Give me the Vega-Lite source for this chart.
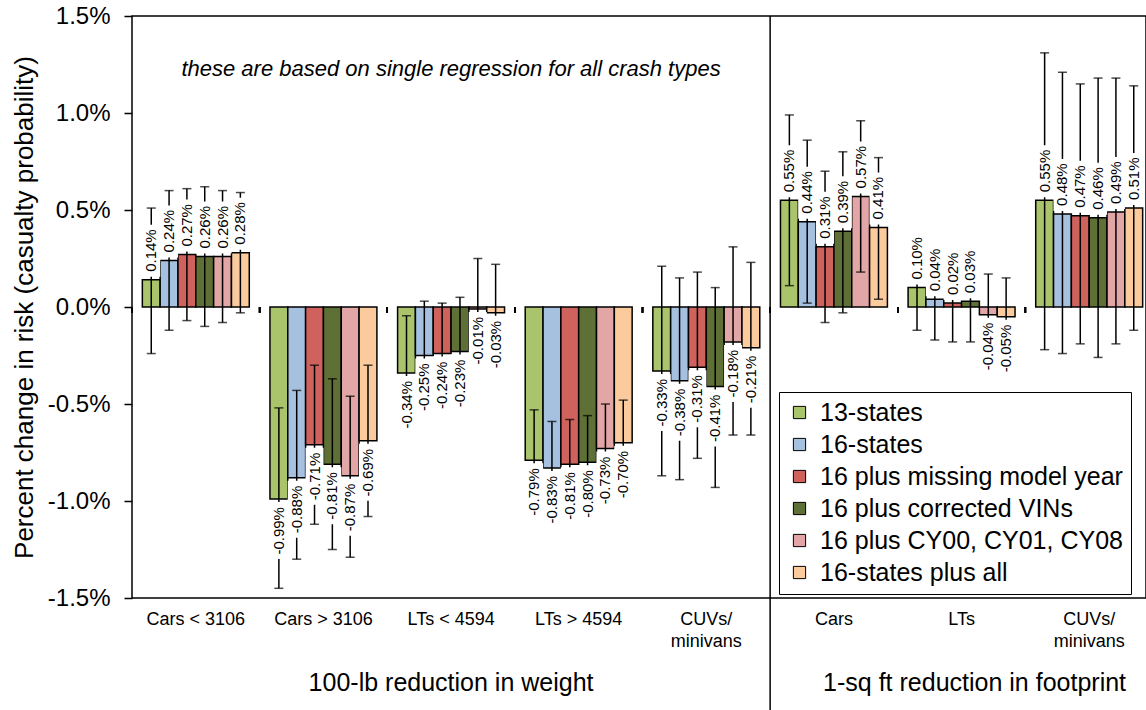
{
  "$schema": "https://vega.github.io/schema/vega-lite/v6.json",
  "width": 1014,
  "height": 582,
  "autosize": {"type": "none"},
  "padding": {"left": 132, "top": 16, "right": 0, "bottom": 112},
  "background": "white",
  "config": {
    "view": {"stroke": "black", "strokeWidth": 1.5},
    "font": "Liberation Sans",
    "text": {"font": "Liberation Sans", "color": "black"}
  },
  "data": {
    "values": [
      {"g": "A", "s": "13-states", "v": 0.14, "lo": -0.24, "hi": 0.51, "lab": "0.14%"},
      {"g": "A", "s": "16-states", "v": 0.24, "lo": -0.12, "hi": 0.60, "lab": "0.24%"},
      {"g": "A", "s": "16 plus missing model year", "v": 0.27, "lo": -0.07, "hi": 0.61, "lab": "0.27%"},
      {"g": "A", "s": "16 plus corrected VINs", "v": 0.26, "lo": -0.10, "hi": 0.62, "lab": "0.26%"},
      {"g": "A", "s": "16 plus CY00, CY01, CY08", "v": 0.26, "lo": -0.08, "hi": 0.60, "lab": "0.26%"},
      {"g": "A", "s": "16-states plus all", "v": 0.28, "lo": -0.03, "hi": 0.59, "lab": "0.28%"},
      {"g": "B", "s": "13-states", "v": -0.99, "lo": -1.45, "hi": -0.52, "lab": "-0.99%"},
      {"g": "B", "s": "16-states", "v": -0.88, "lo": -1.30, "hi": -0.43, "lab": "-0.88%"},
      {"g": "B", "s": "16 plus missing model year", "v": -0.71, "lo": -1.12, "hi": -0.30, "lab": "-0.71%"},
      {"g": "B", "s": "16 plus corrected VINs", "v": -0.81, "lo": -1.25, "hi": -0.37, "lab": "-0.81%"},
      {"g": "B", "s": "16 plus CY00, CY01, CY08", "v": -0.87, "lo": -1.29, "hi": -0.46, "lab": "-0.87%"},
      {"g": "B", "s": "16-states plus all", "v": -0.69, "lo": -1.08, "hi": -0.30, "lab": "-0.69%"},
      {"g": "C", "s": "13-states", "v": -0.34, "lo": -0.635, "hi": -0.045, "lab": "-0.34%"},
      {"g": "C", "s": "16-states", "v": -0.25, "lo": -0.53, "hi": 0.03, "lab": "-0.25%"},
      {"g": "C", "s": "16 plus missing model year", "v": -0.24, "lo": -0.50, "hi": 0.02, "lab": "-0.24%"},
      {"g": "C", "s": "16 plus corrected VINs", "v": -0.23, "lo": -0.51, "hi": 0.05, "lab": "-0.23%"},
      {"g": "C", "s": "16 plus CY00, CY01, CY08", "v": -0.01, "lo": -0.27, "hi": 0.25, "lab": "-0.01%"},
      {"g": "C", "s": "16-states plus all", "v": -0.03, "lo": -0.28, "hi": 0.22, "lab": "-0.03%"},
      {"g": "D", "s": "13-states", "v": -0.79, "lo": -1.05, "hi": -0.53, "lab": "-0.79%"},
      {"g": "D", "s": "16-states", "v": -0.83, "lo": -1.07, "hi": -0.59, "lab": "-0.83%"},
      {"g": "D", "s": "16 plus missing model year", "v": -0.81, "lo": -1.04, "hi": -0.58, "lab": "-0.81%"},
      {"g": "D", "s": "16 plus corrected VINs", "v": -0.80, "lo": -1.04, "hi": -0.56, "lab": "-0.80%"},
      {"g": "D", "s": "16 plus CY00, CY01, CY08", "v": -0.73, "lo": -0.96, "hi": -0.50, "lab": "-0.73%"},
      {"g": "D", "s": "16-states plus all", "v": -0.70, "lo": -0.92, "hi": -0.48, "lab": "-0.70%"},
      {"g": "E", "s": "13-states", "v": -0.33, "lo": -0.87, "hi": 0.21, "lab": "-0.33%"},
      {"g": "E", "s": "16-states", "v": -0.38, "lo": -0.89, "hi": 0.15, "lab": "-0.38%"},
      {"g": "E", "s": "16 plus missing model year", "v": -0.31, "lo": -0.78, "hi": 0.18, "lab": "-0.31%"},
      {"g": "E", "s": "16 plus corrected VINs", "v": -0.41, "lo": -0.93, "hi": 0.10, "lab": "-0.41%"},
      {"g": "E", "s": "16 plus CY00, CY01, CY08", "v": -0.18, "lo": -0.66, "hi": 0.31, "lab": "-0.18%"},
      {"g": "E", "s": "16-states plus all", "v": -0.21, "lo": -0.66, "hi": 0.23, "lab": "-0.21%"},
      {"g": "F", "s": "13-states", "v": 0.55, "lo": 0.11, "hi": 0.99, "lab": "0.55%"},
      {"g": "F", "s": "16-states", "v": 0.44, "lo": 0.02, "hi": 0.86, "lab": "0.44%"},
      {"g": "F", "s": "16 plus missing model year", "v": 0.31, "lo": -0.08, "hi": 0.70, "lab": "0.31%"},
      {"g": "F", "s": "16 plus corrected VINs", "v": 0.39, "lo": -0.03, "hi": 0.80, "lab": "0.39%"},
      {"g": "F", "s": "16 plus CY00, CY01, CY08", "v": 0.57, "lo": 0.18, "hi": 0.96, "lab": "0.57%"},
      {"g": "F", "s": "16-states plus all", "v": 0.41, "lo": 0.04, "hi": 0.77, "lab": "0.41%"},
      {"g": "G", "s": "13-states", "v": 0.10, "lo": -0.12, "hi": 0.32, "lab": "0.10%"},
      {"g": "G", "s": "16-states", "v": 0.04, "lo": -0.17, "hi": 0.25, "lab": "0.04%"},
      {"g": "G", "s": "16 plus missing model year", "v": 0.02, "lo": -0.18, "hi": 0.22, "lab": "0.02%"},
      {"g": "G", "s": "16 plus corrected VINs", "v": 0.03, "lo": -0.18, "hi": 0.24, "lab": "0.03%"},
      {"g": "G", "s": "16 plus CY00, CY01, CY08", "v": -0.04, "lo": -0.25, "hi": 0.17, "lab": "-0.04%"},
      {"g": "G", "s": "16-states plus all", "v": -0.05, "lo": -0.25, "hi": 0.15, "lab": "-0.05%"},
      {"g": "H", "s": "13-states", "v": 0.55, "lo": -0.22, "hi": 1.31, "lab": "0.55%"},
      {"g": "H", "s": "16-states", "v": 0.48, "lo": -0.24, "hi": 1.21, "lab": "0.48%"},
      {"g": "H", "s": "16 plus missing model year", "v": 0.47, "lo": -0.19, "hi": 1.15, "lab": "0.47%"},
      {"g": "H", "s": "16 plus corrected VINs", "v": 0.46, "lo": -0.26, "hi": 1.18, "lab": "0.46%"},
      {"g": "H", "s": "16 plus CY00, CY01, CY08", "v": 0.49, "lo": -0.19, "hi": 1.18, "lab": "0.49%"},
      {"g": "H", "s": "16-states plus all", "v": 0.51, "lo": -0.12, "hi": 1.14, "lab": "0.51%"}
    ]
  },
  "encoding": {
    "x": {
      "field": "g",
      "type": "nominal",
      "title": null,
      "scale": {"domain": ["A", "B", "C", "D", "E", "F", "G", "H"], "paddingInner": 0, "paddingOuter": 0, "range": [0, 1021]},
      "axis": {
        "labelAngle": 0,
        "ticks": false,
        "domain": false,
        "labelPadding": 12,
        "labelFontSize": 18,
        "labelColor": "black",
        "labelFont": "Liberation Sans",
        "labelLineHeight": 22,
        "labelBaseline": "top",
        "labelExpr": "datum.value=='A'?'Cars < 3106':datum.value=='B'?'Cars > 3106':datum.value=='C'?'LTs < 4594':datum.value=='D'?'LTs > 4594':datum.value=='F'?'Cars':datum.value=='G'?'LTs':['CUVs/','minivans']"
      }
    }
  },
  "layer": [
    {
      "mark": {"type": "bar", "stroke": "black", "strokeWidth": 1.5},
      "encoding": {
        "xOffset": {"field": "s", "type": "nominal", "scale": {"domain": ["13-states", "16-states", "16 plus missing model year", "16 plus corrected VINs", "16 plus CY00, CY01, CY08", "16-states plus all"], "paddingInner": 0, "paddingOuter": 0.58}},
        "y": {
          "field": "v",
          "type": "quantitative",
          "scale": {"domain": [-1.5, 1.5], "nice": false, "zero": false},
          "title": "Percent change in risk (casualty probability)",
          "axis": {
            "values": [-1.5, -1, -0.5, 0, 0.5, 1, 1.5],
            "labelExpr": "replace(format(datum.value, '.1f'), '\u2212', '-') + '%'",
            "labelFontSize": 24,
            "labelFont": "Liberation Sans",
            "labelColor": "black",
            "tickSize": 8,
            "tickColor": "black",
            "tickWidth": 1.5,
            "labelPadding": 14,
            "grid": false,
            "domain": false,
            "titleFontSize": 26,
            "titleFont": "Liberation Sans",
            "titleFontWeight": "normal",
            "titleColor": "black",
            "titlePadding": 10
          }
        },
        "y2": {"datum": 0},
        "color": {
          "field": "s",
          "type": "nominal",
          "scale": {
            "domain": ["13-states", "16-states", "16 plus missing model year", "16 plus corrected VINs", "16 plus CY00, CY01, CY08", "16-states plus all"],
            "range": ["#A9C46B", "#A6C1E0", "#D0625D", "#5E7035", "#E2A6A6", "#FCCB9D"]
          },
          "legend": {
            "orient": "none",
            "legendX": 647,
            "legendY": 376,
            "title": null,
            "symbolType": "square",
            "symbolSize": 150,
            "symbolStrokeColor": "black",
            "symbolStrokeWidth": 1,
            "labelFontSize": 25,
            "labelFont": "Liberation Sans",
            "labelColor": "black",
            "labelLimit": 500,
            "labelOffset": 8,
            "fillColor": "white",
            "strokeColor": "black",
            "padding": 8,
            "rowPadding": 6
          }
        }
      }
    },
    {
      "mark": {"type": "rule", "color": "black", "strokeWidth": 1.5},
      "encoding": {"y": {"datum": 0}}
    },
    {
      "mark": {"type": "rule", "color": "black", "strokeWidth": 1.5},
      "encoding": {
        "x": {"field": "g", "type": "nominal", "bandPosition": 0},
        "y": {"datum": 0},
        "y2": {"datum": -0.03}
      }
    },
    {
      "mark": {"type": "rule", "color": "black", "strokeWidth": 1.5},
      "encoding": {
        "xOffset": {"field": "s", "type": "nominal"},
        "y": {"field": "lo", "type": "quantitative"},
        "y2": {"field": "hi"}
      }
    },
    {
      "mark": {"type": "tick", "color": "black", "size": 9, "thickness": 1.5},
      "encoding": {
        "xOffset": {"field": "s", "type": "nominal"},
        "y": {"field": "lo", "type": "quantitative"}
      }
    },
    {
      "mark": {"type": "tick", "color": "black", "size": 9, "thickness": 1.5},
      "encoding": {
        "xOffset": {"field": "s", "type": "nominal"},
        "y": {"field": "hi", "type": "quantitative"}
      }
    },
    {
      "transform": [{"filter": "datum.v >= 0"}],
      "mark": {"type": "bar", "color": "white", "width": 18, "yOffset": -3, "y2Offset": -55},
      "encoding": {
        "xOffset": {"field": "s", "type": "nominal"},
        "y": {"field": "v", "type": "quantitative"},
        "y2": {"field": "v"}
      }
    },
    {
      "transform": [{"filter": "datum.v < 0"}],
      "mark": {"type": "bar", "color": "white", "width": 18, "yOffset": 3, "y2Offset": 60},
      "encoding": {
        "xOffset": {"field": "s", "type": "nominal"},
        "y": {"field": "v", "type": "quantitative"},
        "y2": {"field": "v"}
      }
    },
    {
      "transform": [{"filter": "datum.v >= 0"}],
      "mark": {"type": "text", "angle": 270, "align": "left", "baseline": "middle", "dx": 8, "fontSize": 15},
      "encoding": {
        "xOffset": {"field": "s", "type": "nominal"},
        "y": {"field": "v", "type": "quantitative"},
        "text": {"field": "lab"}
      }
    },
    {
      "transform": [{"filter": "datum.v < 0"}],
      "mark": {"type": "text", "angle": 270, "align": "right", "baseline": "middle", "dx": -8, "fontSize": 15},
      "encoding": {
        "xOffset": {"field": "s", "type": "nominal"},
        "y": {"field": "v", "type": "quantitative"},
        "text": {"field": "lab"}
      }
    },
    {
      "data": {"values": [{"g": "F"}]},
      "mark": {"type": "rule", "color": "black", "strokeWidth": 1.5},
      "encoding": {
        "x": {"field": "g", "type": "nominal", "bandPosition": 0},
        "y": {"datum": 1.5},
        "y2": {"datum": -2.1}
      }
    },
    {
      "data": {"values": [{"g": "C", "t": "these are based on single regression for all crash types"}]},
      "mark": {"type": "text", "fontSize": 22, "fontStyle": "italic", "baseline": "middle"},
      "encoding": {
        "x": {"field": "g", "type": "nominal"},
        "y": {"datum": 1.225},
        "text": {"field": "t"}
      }
    },
    {
      "data": {"values": [{"g": "C", "t": "100-lb reduction in weight"}]},
      "mark": {"type": "text", "fontSize": 25, "baseline": "middle", "dy": 85},
      "encoding": {
        "x": {"field": "g", "type": "nominal"},
        "y": {"datum": -1.5},
        "text": {"field": "t"}
      }
    },
    {
      "data": {"values": [{"g": "G", "t": "1-sq ft reduction in footprint"}]},
      "mark": {"type": "text", "fontSize": 25, "baseline": "middle", "dy": 85, "dx": 13},
      "encoding": {
        "x": {"field": "g", "type": "nominal"},
        "y": {"datum": -1.5},
        "text": {"field": "t"}
      }
    }
  ]
}
